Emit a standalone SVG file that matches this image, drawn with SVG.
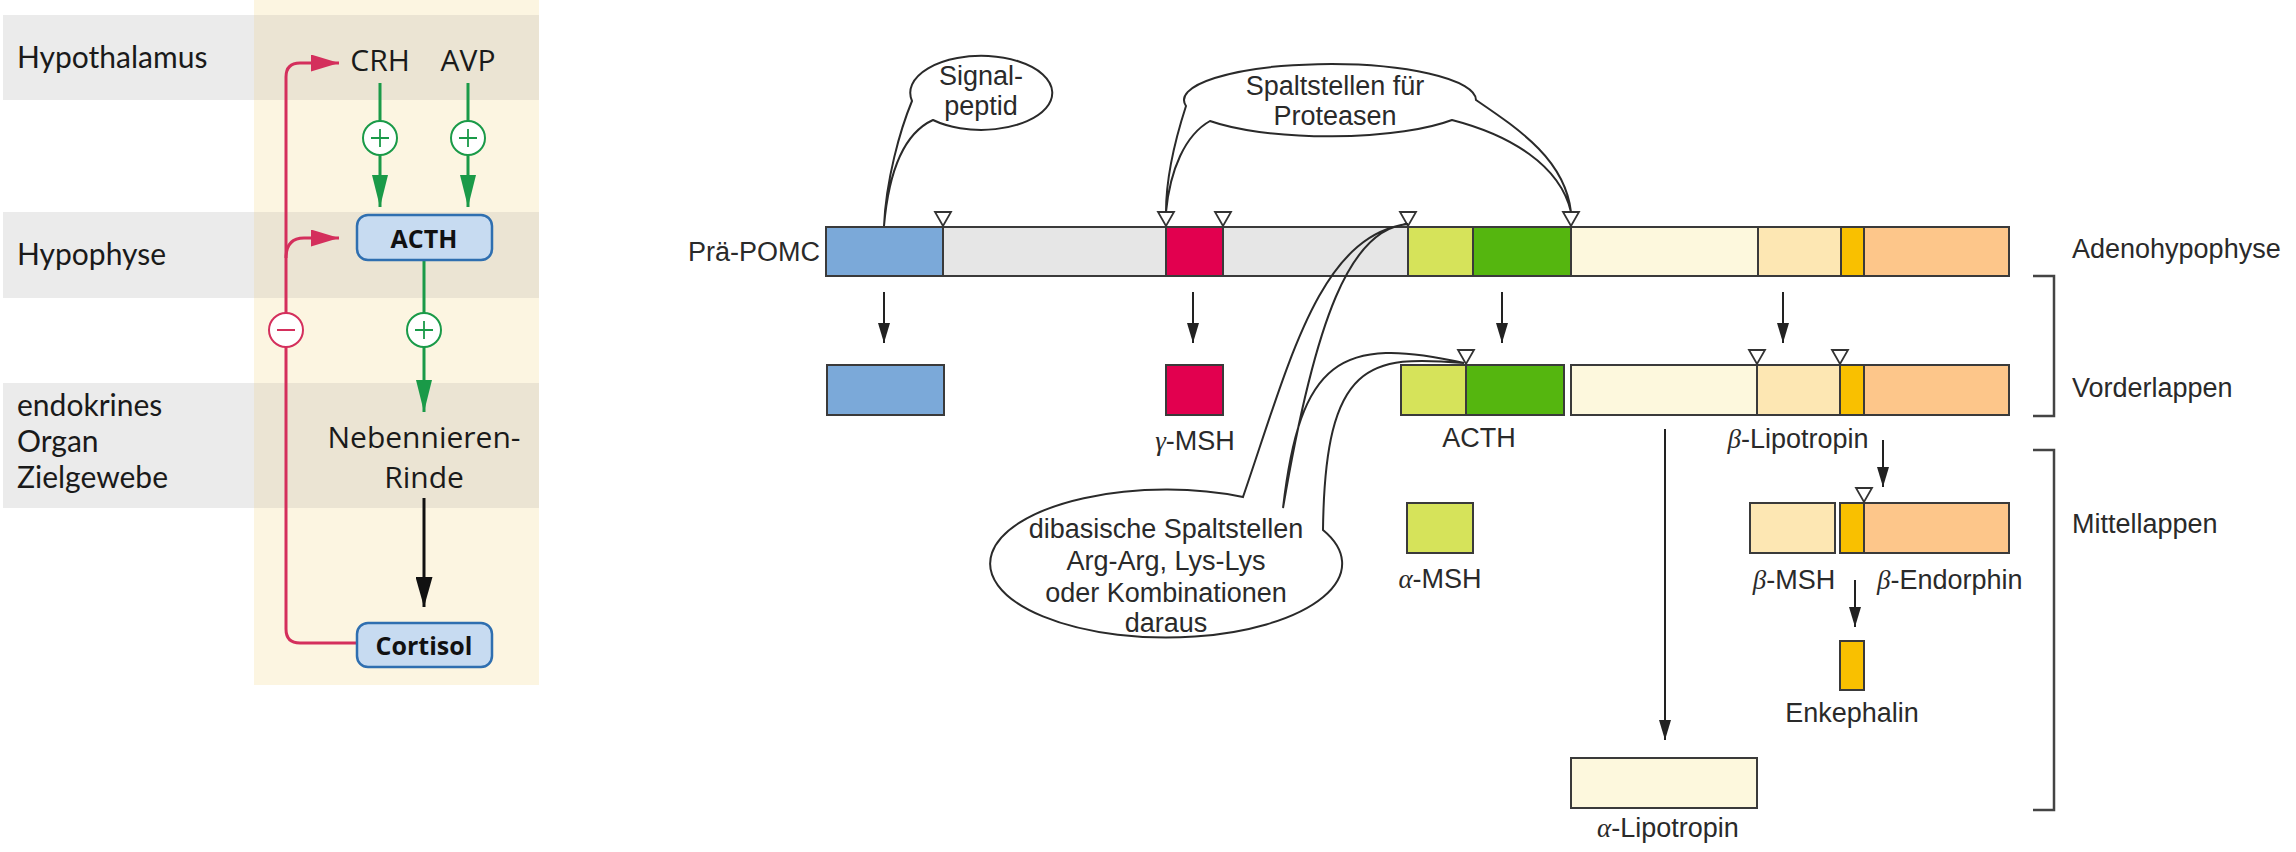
<svg xmlns="http://www.w3.org/2000/svg" width="2296" height="852" viewBox="0 0 2296 852">
<defs>
<style>
.lbl{font-family:"Open Sans","Noto Sans",sans-serif;font-size:30px;fill:#1a1a1a}
.band{font-family:Lato,"Open Sans",sans-serif;font-size:30px;fill:#1a1a1a}
.lblb{font-family:"Open Sans","Noto Sans",sans-serif;font-size:25px;font-weight:bold;fill:#111}
.t{font-family:"Liberation Sans",Arial,sans-serif;font-size:27px;fill:#2a2a2a}
.g{font-family:"Liberation Serif","Times New Roman",serif;font-style:italic}
.seg{stroke:#3a3a3a;stroke-width:2}
.tri{fill:#fff;stroke:#333;stroke-width:1.8}
.ar{stroke:#222;stroke-width:2;fill:none;marker-end:url(#ah)}
.br{stroke:#444;stroke-width:2.5;fill:none}
.bub{fill:none;stroke:#2a2a2a;stroke-width:2}
.grn{stroke:#1a9a48;stroke-width:3;fill:none}
.red{stroke:#d42f5c;stroke-width:3;fill:none}
.hbox{fill:#c7dbf1;stroke:#2f6fb0;stroke-width:2.5}
</style>
<marker id="ah" markerUnits="userSpaceOnUse" markerWidth="20" markerHeight="12" refX="20" refY="6" orient="auto"><path d="M0,0 L20,6 L0,12 z" fill="#222"/></marker>
<marker id="ahg" markerUnits="userSpaceOnUse" markerWidth="32" markerHeight="16" refX="32" refY="8" orient="auto"><path d="M0,0 L32,8 L0,16 z" fill="#1a9a48"/></marker>
<marker id="ahk" markerUnits="userSpaceOnUse" markerWidth="30" markerHeight="17" refX="30" refY="8.5" orient="auto"><path d="M0,0 L30,8.5 L0,17 z" fill="#111"/></marker>
<marker id="ahr" markerUnits="userSpaceOnUse" markerWidth="28" markerHeight="17" refX="28" refY="8.5" orient="auto"><path d="M0,0 L28,8.5 L0,17 z" fill="#d42f5c"/></marker>
</defs>
<rect width="2296" height="852" fill="#fff"/>

<!-- LEFT PANEL -->
<g id="bands">
<rect x="3" y="15" width="536" height="85" fill="#ebebeb"/>
<rect x="3" y="212" width="536" height="86" fill="#ebebeb"/>
<rect x="3" y="383" width="536" height="125" fill="#ebebeb"/>
<rect x="254" y="0" width="285" height="685" fill="#fcf5e1"/>
<rect x="254" y="15" width="285" height="85" fill="#ebe4d3"/>
<rect x="254" y="212" width="285" height="86" fill="#ebe4d3"/>
<rect x="254" y="383" width="285" height="125" fill="#ebe4d3"/>
<text class="band" x="17" y="68">Hypothalamus</text>
<text class="band" x="17" y="265">Hypophyse</text>
<text class="band" x="17" y="416" font-size="29.5">endokrines<tspan x="17" dy="36">Organ</tspan><tspan x="17" dy="36">Zielgewebe</tspan></text>
</g>
<g id="left-connectors">
<path class="grn" d="M380,83 V121 M380,155 V207" marker-end="url(#ahg)"/>
<path class="grn" d="M468,83 V121 M468,155 V207" marker-end="url(#ahg)"/>
<path class="grn" d="M424,260 V313 M424,347 V412" marker-end="url(#ahg)"/>
<path d="M424,498 V607" stroke="#111" stroke-width="3" fill="none" marker-end="url(#ahk)"/>
<path class="red" d="M357,643 H300 Q286,643 286,629 V347 M286,313 V77 Q286,63 300,63 H339" marker-end="url(#ahr)"/>
<path class="red" d="M286,258 Q286,238 304,238 H339" marker-end="url(#ahr)"/>
<circle cx="380" cy="138" r="17" fill="#fff" stroke="#1a9a48" stroke-width="2"/>
<path d="M371,138 H389 M380,129 V147" stroke="#1a9a48" stroke-width="1.8"/>
<circle cx="468" cy="138" r="17" fill="#fff" stroke="#1a9a48" stroke-width="2"/>
<path d="M459,138 H477 M468,129 V147" stroke="#1a9a48" stroke-width="1.8"/>
<circle cx="424" cy="330" r="17" fill="#fff" stroke="#1a9a48" stroke-width="2"/>
<path d="M415,330 H433 M424,321 V339" stroke="#1a9a48" stroke-width="1.8"/>
<circle cx="286" cy="330" r="17" fill="#fff" stroke="#d42f5c" stroke-width="2"/>
<path d="M277,330 H295" stroke="#d42f5c" stroke-width="2"/>
</g>
<g id="crh"><text class="lbl" x="380" y="71" text-anchor="middle" font-size="29">CRH</text></g>
<g id="avp"><text class="lbl" x="468" y="71" text-anchor="middle" font-size="29">AVP</text></g>
<g id="acth-box"><rect class="hbox" x="357" y="215" width="135" height="45" rx="11"/><text class="lblb" x="424" y="248" text-anchor="middle">ACTH</text></g>
<g id="nnr"><text class="lbl" x="424" y="448" text-anchor="middle" font-size="29">Nebennieren-<tspan x="424" dy="40">Rinde</tspan></text></g>
<g id="cortisol"><rect class="hbox" x="357" y="623" width="135" height="44" rx="11"/><text class="lblb" x="424" y="655" text-anchor="middle">Cortisol</text></g>

<!-- RIGHT PANEL -->
<g id="prae-pomc">
<text class="t" x="820" y="261" text-anchor="end">Prä-POMC</text>
<rect class="seg" x="826" y="227" width="117" height="49" fill="#7ba9d9"/>
<rect class="seg" x="943" y="227" width="223" height="49" fill="#e6e6e6"/>
<rect class="seg" x="1166" y="227" width="57" height="49" fill="#e2004f"/>
<rect class="seg" x="1223" y="227" width="185" height="49" fill="#e6e6e6"/>
<rect class="seg" x="1408" y="227" width="65" height="49" fill="#d6e35a"/>
<rect class="seg" x="1473" y="227" width="98" height="49" fill="#55b60f"/>
<rect class="seg" x="1571" y="227" width="187" height="49" fill="#fdf8dd"/>
<rect class="seg" x="1758" y="227" width="83" height="49" fill="#fde7b3"/>
<rect class="seg" x="1841" y="227" width="23" height="49" fill="#f9c000"/>
<rect class="seg" x="1864" y="227" width="145" height="49" fill="#fdc68a"/>
<path class="tri" d="M935,212 H951 L943,226 Z M1158,212 H1174 L1166,226 Z M1215,212 H1231 L1223,226 Z M1400,212 H1416 L1408,226 Z M1563,212 H1579 L1571,226 Z"/>
</g>
<g id="signalpeptid-row"><rect class="seg" x="827" y="365" width="117" height="50" fill="#7ba9d9"/></g>
<g id="gamma-msh"><rect class="seg" x="1166" y="365" width="57" height="50" fill="#e2004f"/><text class="t" x="1195" y="450" text-anchor="middle"><tspan class="g">γ</tspan>-MSH</text></g>
<g id="acth">
<rect class="seg" x="1401" y="365" width="65" height="50" fill="#d6e35a"/>
<rect class="seg" x="1466" y="365" width="98" height="50" fill="#55b60f"/>
<path class="tri" d="M1458,350 H1474 L1466,364 Z"/>
<text class="t" x="1479" y="447" text-anchor="middle">ACTH</text>
</g>
<g id="beta-lipotropin">
<rect class="seg" x="1571" y="365" width="186" height="50" fill="#fdf8dd"/>
<rect class="seg" x="1757" y="365" width="83" height="50" fill="#fde7b3"/>
<rect class="seg" x="1840" y="365" width="24" height="50" fill="#f9c000"/>
<rect class="seg" x="1864" y="365" width="145" height="50" fill="#fdc68a"/>
<path class="tri" d="M1749,350 H1765 L1757,364 Z M1832,350 H1848 L1840,364 Z"/>
<text class="t" x="1798" y="448" text-anchor="middle"><tspan class="g">β</tspan>-Lipotropin</text>
</g>
<g id="alpha-msh"><rect class="seg" x="1407" y="503" width="66" height="50" fill="#d6e35a"/><text class="t" x="1440" y="588" text-anchor="middle"><tspan class="g">α</tspan>-MSH</text></g>
<g id="beta-msh"><rect class="seg" x="1750" y="503" width="85" height="50" fill="#fde7b3"/><text class="t" x="1794" y="589" text-anchor="middle"><tspan class="g">β</tspan>-MSH</text></g>
<g id="beta-endorphin">
<rect class="seg" x="1840" y="503" width="24" height="50" fill="#f9c000"/>
<rect class="seg" x="1864" y="503" width="145" height="50" fill="#fdc68a"/>
<path class="tri" d="M1856,488 H1872 L1864,502 Z"/>
<text class="t" x="1877" y="589"><tspan class="g">β</tspan>-Endorphin</text>
</g>
<g id="enkephalin"><rect class="seg" x="1840" y="641" width="24" height="49" fill="#f9c000"/><text class="t" x="1852" y="722" text-anchor="middle">Enkephalin</text></g>
<g id="alpha-lipotropin"><rect class="seg" x="1571" y="758" width="186" height="50" fill="#fdf8dd"/><text class="t" x="1668" y="837" text-anchor="middle"><tspan class="g">α</tspan>-Lipotropin</text></g>

<g id="signal-bubble">
<path class="bub" d="M912,101 A71,37 0 1 1 933,120 C900,135 888,180 884,226 C886,180 900,130 912,101 Z"/>
<text class="t" x="981" y="85" text-anchor="middle">Signal-<tspan x="981" dy="30">peptid</tspan></text>
</g>
<g id="protease-bubble">
<path class="bub" d="M1186,106 A146,36 0 1 1 1476,100 C1520,130 1565,160 1571,212 C1560,165 1510,135 1452,120 A146,36 0 0 1 1210,121 C1185,135 1170,170 1166,212 C1166,180 1175,140 1186,106 Z"/>
<text class="t" x="1335" y="95" text-anchor="middle">Spaltstellen für<tspan x="1335" dy="30">Proteasen</tspan></text>
</g>
<g id="dibasic-bubble">
<path class="bub" d="M1243,497 C1290,360 1320,235 1408,224 C1350,228 1315,320 1283,508 C1300,360 1340,335 1464,363 C1370,355 1325,360 1323,530 A176,74 0 1 1 1243,497 Z"/>
<text class="t" x="1166" y="538" text-anchor="middle">dibasische Spaltstellen<tspan x="1166" dy="32">Arg-Arg, Lys-Lys</tspan><tspan x="1166" dy="32">oder Kombinationen</tspan><tspan x="1166" dy="30">daraus</tspan></text>
</g>

<g id="connectors">
<path class="ar" d="M884,292 V343"/>
<path class="ar" d="M1193,292 V343"/>
<path class="ar" d="M1502,292 V343"/>
<path class="ar" d="M1783,292 V343"/>
<path class="ar" d="M1883,440 V487"/>
<path class="ar" d="M1855,580 V627"/>
<path class="ar" d="M1665,429 V740"/>
</g>
<g id="regions">
<path class="br" d="M2033,276 H2054 V416 H2033"/>
<path class="br" d="M2033,450 H2054 V810 H2033"/>
<text class="t" x="2072" y="258">Adenohypophyse</text>
<text class="t" x="2072" y="397">Vorderlappen</text>
<text class="t" x="2072" y="533">Mittellappen</text>
</g>
</svg>
